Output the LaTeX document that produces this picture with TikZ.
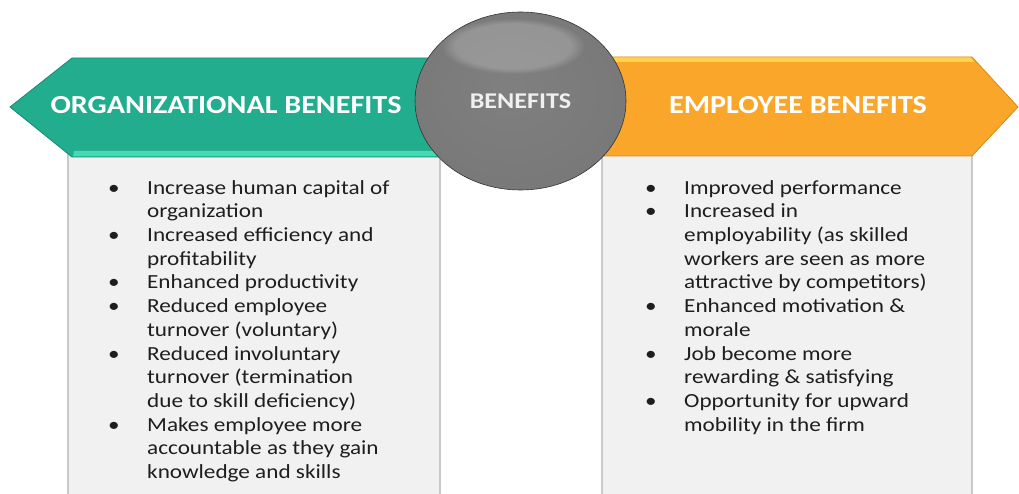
\documentclass[tikz,border=0pt]{standalone}
\usepackage{fontspec}
\setmainfont{Carlito}[FakeStretch=1.16]
\usetikzlibrary{shapes.geometric,fadings}
\definecolor{tealmain}{HTML}{22AD8F}
\definecolor{tealdark}{HTML}{178A70}
\definecolor{teallight}{HTML}{45D9B4}
\definecolor{orangemain}{HTML}{F9A62B}
\definecolor{orangedark}{HTML}{D98A15}
\definecolor{orangelight}{HTML}{FFD24F}
\definecolor{panelfill}{HTML}{F1F1F1}
\definecolor{paneledge}{HTML}{C9C9C9}
\definecolor{bodytext}{HTML}{1E1E1E}
\pgfdeclareradialshading{sphere}{\pgfpoint{-3bp}{4bp}}{%
  color(0bp)=(black!50); color(30bp)=(black!53); color(40bp)=(black!60);
  color(46bp)=(black!70); color(50bp)=(black!85)}
\tikzset{
  panel/.style={fill=panelfill, draw=paneledge, line width=1.2pt},
  header/.style={text=white, font=\fontsize{26}{30}\selectfont\bfseries, inner sep=0},
  itemlist/.style={text=bodytext, font=\fontsize{20}{23.7}\selectfont, inner sep=0, anchor=north west},
}
\begin{document}
\begin{tikzpicture}[x=1pt,y=-1pt]
\useasboundingbox (0,0) rectangle (1019,494);
% content panels
\draw[panel] (68,150) rectangle (440,500);
\draw[panel] (602,150) rectangle (972,500);
% left arrow banner
\fill[tealmain, draw=tealdark, line width=0.8pt]
  (10,107) -- (72,58) -- (450,58) -- (450,157) -- (72,157) -- cycle;
\fill[teallight] (74,151) -- (450,151) -- (450,156.5) -- (73,156.5) -- cycle;
% right arrow banner
\fill[orangemain, draw=orangedark, line width=0.8pt]
  (590,57) -- (972,57) -- (1018,107) -- (972,156) -- (590,156) -- cycle;
\fill[orangelight] (590,57.5) -- (971,57.5) -- (974,62) -- (590,62) -- cycle;
% central sphere
\path[shading=sphere, draw=black!80, line width=0.6pt]
  (520.5,101) ellipse [x radius=105.5, y radius=89];
\fill[white, opacity=0.2, path fading=circle with fuzzy edge 20 percent]
  (513,46) ellipse [x radius=72, y radius=28];
% labels
\node[header] (org) at (226,105) {ORGANIZATIONAL BENEFITS};
\node[header] (emp) at (798,105) {EMPLOYEE BENEFITS};
\node[header, text=white!94!black, font=\fontsize{22.5}{26}\selectfont\bfseries] (ben) at (520.5,101) {BENEFITS};
% bullet lists
\node[itemlist] (orglist) at (108,177.4) {%
\begin{tabular}{@{}p{39pt}@{}l@{}}
\textbullet & Increase human capital of\\
            & organization\\
\textbullet & Increased efficiency and\\
            & profitability\\
\textbullet & Enhanced productivity\\
\textbullet & Reduced employee\\
            & turnover (voluntary)\\
\textbullet & Reduced involuntary\\
            & turnover (termination\\
            & due to skill deficiency)\\
\textbullet & Makes employee more\\
            & accountable as they gain\\
            & knowledge and skills
\end{tabular}};
\node[itemlist] (emplist) at (645,177.4) {%
\begin{tabular}{@{}p{39pt}@{}l@{}}
\textbullet & Improved performance\\
\textbullet & Increased in\\
            & employability (as skilled\\
            & workers are seen as more\\
            & attractive by competitors)\\
\textbullet & Enhanced motivation \&\\
            & morale\\
\textbullet & Job become more\\
            & rewarding \& satisfying\\
\textbullet & Opportunity for upward\\
            & mobility in the firm
\end{tabular}};
\end{tikzpicture}
\end{document}
